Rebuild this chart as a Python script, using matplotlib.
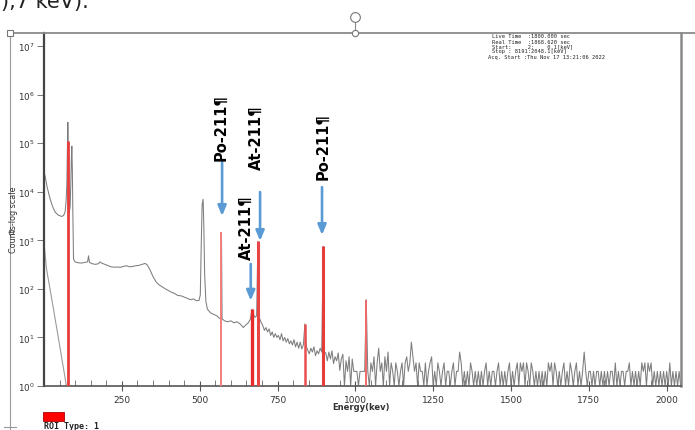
import numpy as np
import matplotlib
matplotlib.use("Agg")
import matplotlib.pyplot as plt
from matplotlib.ticker import FixedLocator, NullLocator, MultipleLocator, LogFormatterMathtext
from matplotlib.patches import Rectangle
from matplotlib.lines import Line2D

# ---------------- data ----------------
# main spectrum (0 - 1000 keV), counts
spec_energy = [0, 3.6, 10, 19.8, 28, 35.9, 46, 57, 63, 67.9, 71, 73.3, 75, 76.5, 78, 80, 81.7,
               84, 86, 88, 89.4, 91, 92.6, 94.8, 100, 110, 120, 130, 140, 143, 146, 155,
               165, 175, 180, 185, 195, 205, 215, 225, 235, 245, 255, 265, 275, 285, 295,
               305, 315, 325, 332, 340, 350, 360, 370, 380, 390, 400, 410, 420, 430, 440,
               450, 460, 470, 480, 490, 498, 502, 505, 508, 511, 513, 516, 520, 525, 535,
               545, 555, 563, 568, 570, 572, 580, 590, 600, 610, 620, 630, 640, 648, 656,
               663, 668, 672, 678, 683, 687, 690, 695, 702, 708, 713, 718, 723, 728, 733,
               738, 743, 748, 753, 758, 763, 768, 773, 778, 783, 788, 793, 798, 803, 808,
               813, 818, 823, 828, 833, 838, 842, 847, 852, 857, 862, 867, 872, 877, 882,
               887, 892, 897, 900, 905, 910, 915, 920, 925, 930, 935, 940, 945, 950, 955,
               960, 965, 970, 975, 980, 985, 990, 995]
spec_counts = [25000, 21000, 12500, 7060, 4900, 3800, 3300, 3100, 3250, 3880, 6500, 13800, 60000, 270000, 90000, 9000, 3800,
               5200, 14000, 50000, 87000, 30000, 3900, 413, 358, 345, 340, 350, 360, 480, 350, 330,
               320, 330, 360, 340, 320, 300, 285, 280, 282, 278, 290, 300, 285, 290, 300,
               305, 320, 335, 310, 250, 180, 140, 120, 110, 100, 92, 85, 80, 73, 72,
               68, 64, 60, 62, 57, 58, 75, 800, 5500, 7000, 2500, 200, 55, 38, 32,
               30, 28, 25, 24, 1450, 24, 22, 21, 22, 20, 21, 19, 16, 18, 20,
               24, 38, 30, 26, 28, 950, 28, 22, 18, 14, 16, 13, 15, 11, 13,
               10, 12, 10, 11, 9, 12, 8.5, 10, 8, 9.5, 7.4, 8.5, 7, 9, 6.4,
               8, 6, 8, 5.8, 7, 19, 6.7, 5.5, 4.6, 6, 5, 6.4, 4.2, 5.3, 4.6,
               6, 5, 750, 5, 4.8, 3.3, 5, 3.6, 5.3, 2.9, 4, 3.3, 4.8, 2.1, 3.6,
               4.5, 1, 3.3, 2, 4, 1, 3.6, 2]

# high-energy region, 5 keV channels from 1000 keV
noise_start_keV, noise_step_keV = 1000, 5
noise_counts = [
    2, 2, 1, 2, 2, 2, 2, 60, 2, 1, 3, 2, 4, 1, 3, 6, 2, 3, 1, 4,
    2, 5, 1, 3, 2, 1, 3, 2, 1, 2, 3, 1, 3, 4, 2, 3, 8, 4, 2, 3,
    1, 3, 2, 2, 1, 3, 1, 2, 3, 4, 1, 2, 1, 3, 2, 1, 2, 3, 1, 2,
    2, 1, 2, 3, 1, 2, 2, 5, 3, 1, 2, 1, 2, 1, 3, 2, 1, 2, 1, 2,
    1, 2, 1, 2, 3, 1, 2, 1, 2, 2, 1, 2, 3, 1, 2, 1, 2, 1, 2, 3,
    1, 2, 1, 2, 3, 1, 3, 2, 3, 1, 3, 2, 1, 3, 2, 1, 2, 1, 2, 1,
    2, 1, 2, 1, 3, 2, 3, 1, 3, 2, 1, 2, 1, 2, 3, 1, 2, 1, 3, 2,
    1, 2, 3, 1, 2, 1, 2, 5, 2, 1, 2, 2, 1, 2, 1, 2, 2, 1, 2, 1,
    2, 1, 2, 1, 2, 2, 1, 3, 1, 2, 1, 2, 2, 1, 2, 2, 3, 1, 2, 1,
    2, 1, 2, 1, 3, 2, 3, 1, 3, 2, 3, 1, 2, 1, 2, 1, 2, 1, 2, 1,
    2, 1, 3, 1, 2, 1, 2, 1, 2, 1]

# second (low-energy) curve
bkg_energy = [0, 3, 8, 30, 50, 72]
bkg_counts = [900, 550, 260, 40, 7, 1]

# ROI peaks
roi_energy = [76, 570, 668, 687, 838, 897, 1035]
roi_top = [110000, 1450, 38, 950, 19, 750, 60]

# annotations: label, arrow energy, arrow tip count, arrow tail count, label energy, label count
ann_labels = ["Po-211¶", "At-211¶", "At-211¶", "Po-211¶"]
ann_arrow_E = [572, 694, 664, 893]
ann_tip = [3170, 968, 57, 1285]
ann_tail = [40600, 9840, 326, 12470]
ann_text_E = [570, 683, 651, 896]
ann_text_C = [220000, 136000, 1880, 91000]

x_ticks = [250, 500, 750, 1000, 1250, 1500, 1750, 2000]
y_ticks = [1e0, 1e1, 1e2, 1e3, 1e4, 1e5, 1e6, 1e7]

info_lines = ["Live Time  :1800.000 sec",
              "Real Time  :1868.620 sec",
              "Start:     2:    0.1[keV]",
              "Stop : 8191:2048.1[keV]",
              "Acq. Start :Thu Nov 17 13:21:06 2022"]

# ---------------- figure ----------------
W, H = 695, 431
fig = plt.figure(figsize=(W / 100, H / 100), dpi=100)
fig.patch.set_facecolor("white")


def fx(px):
    return px / W


def fy(py):
    return 1 - py / H


ax = fig.add_axes([fx(44), fy(387), fx(681) - fx(44), fy(34) - fy(387)])
ax.set_yscale("log")
ax.set_xlim(0, 2046)
ax.set_ylim(1, 10 ** 7.27)

noise_energy = noise_start_keV + noise_step_keV * np.arange(len(noise_counts))
all_E = np.concatenate([spec_energy, noise_energy])
all_C = np.concatenate([spec_counts, noise_counts])

ax.plot(bkg_energy, bkg_counts, color="#9a9a9a", lw=0.8)
ax.plot(all_E, all_C, color="#7d7d7d", lw=0.75)

roi_widths = [2.0, 1.4, 2.4, 2.2, 1.8, 2.2, 1.4]
roi_colors = ["#e83c3c", "#f27f7f", "#e82c2c", "#e84646", "#e85050", "#e63c3c", "#ec6a6a"]
ax.vlines(roi_energy, 1, roi_top, colors=roi_colors, linewidths=roi_widths, zorder=3)

# annotations
blue = "#5b9bd5"
for lab, aE, tip, tail, tE, tC in zip(ann_labels, ann_arrow_E, ann_tip, ann_tail, ann_text_E, ann_text_C):
    ax.annotate("", xy=(aE, tip), xytext=(aE, tail),
                arrowprops=dict(arrowstyle="-|>,head_length=0.6,head_width=0.25",
                                color=blue, lw=1.9, mutation_scale=10,
                                shrinkA=0, shrinkB=0), zorder=5)
    ax.text(tE, tC, lab, rotation=90, ha="center", va="center",
            fontsize=10.5, fontweight="bold", color="black", zorder=6)

# ticks
ax.set_xticks(x_ticks)
ax.set_xticklabels([str(v) for v in x_ticks])
ax.xaxis.set_minor_locator(MultipleLocator(50))
ax.tick_params(axis="x", which="major", direction="inout", length=7, width=0.8,
               colors="#555555", labelcolor="#333333", labelsize=6.5, pad=3)
ax.tick_params(axis="x", which="minor", direction="in", length=4, width=0.6, colors="#666666")
ax.yaxis.set_major_locator(FixedLocator(y_ticks))
ax.yaxis.set_major_formatter(LogFormatterMathtext())
ax.yaxis.set_minor_locator(NullLocator())
ax.tick_params(axis="y", which="major", direction="out", length=5, width=0.7,
               colors="#777777", labelcolor="#333333", labelsize=6.3, pad=2)

ax.spines["top"].set_visible(False)
ax.spines["left"].set_color("#444444")
ax.spines["left"].set_linewidth(1.6)
ax.spines["bottom"].set_color("#555555")
ax.spines["bottom"].set_linewidth(1.2)
ax.spines["right"].set_color("#8a8a8a")
ax.spines["right"].set_linewidth(1.8)

# axis labels
fig.text(fx(14), fy(220), "Counts-log scale", rotation=90, fontsize=5.8,
         ha="center", va="center", color="#333333")
fig.text(fx(361), fy(408), "Energy(kev)", fontsize=6, fontweight="bold",
         ha="center", va="center", color="#333333")

# info block
info_y = [37, 42, 47, 52, 57]
info_x = [492, 492, 492, 492, 488]
for line, yy, xx in zip(info_lines, info_y, info_x):
    fig.text(fx(xx), fy(yy), line, family="DejaVu Sans Mono", fontsize=3.9,
             ha="left", va="center", color="#222222")

# ROI legend
fig.add_artist(Rectangle((fx(43), fy(422)), fx(21), 9 / H, transform=fig.transFigure,
                         facecolor="#ff0000", edgecolor="#aa0000", lw=0.6))
fig.text(fx(44), fy(426.5), "ROI Type: 1", family="DejaVu Sans Mono", fontweight="bold",
         fontsize=6, ha="left", va="center", color="#222222")

# Word-like frame
fig.add_artist(Line2D([fx(10), fx(10)], [fy(34), fy(431)], transform=fig.transFigure,
                      color="#9a9a9a", lw=0.8))
fig.add_artist(Line2D([fx(10), fx(695)], [fy(34), fy(34)], transform=fig.transFigure,
                      color="#8a8a8a", lw=1.3))
fig.add_artist(Line2D([fx(355), fx(355)], [fy(23), fy(34)], transform=fig.transFigure,
                      color="#8a8a8a", lw=0.8))
fig.add_artist(Line2D([fx(4), fx(16)], [fy(428), fy(428)], transform=fig.transFigure,
                      color="#9a9a9a", lw=0.8))
for (hx, hy, mk, ms) in [(10, 34, "s", 4), (355, 34, "o", 4.5), (11, 233, "s", 3.5), (355, 18, "o", 7)]:
    fig.add_artist(Line2D([fx(hx)], [fy(hy)], transform=fig.transFigure, marker=mk,
                          markersize=ms, markerfacecolor="white", markeredgecolor="#777777",
                          markeredgewidth=0.8, linestyle="none"))

# clipped text from the surrounding document (only its lower part shows)
fig.text(fx(1), fy(8), "),7 keV).", fontsize=15, ha="left", va="baseline", color="#222222")

fig.savefig("out.png", dpi=100, facecolor="white")
